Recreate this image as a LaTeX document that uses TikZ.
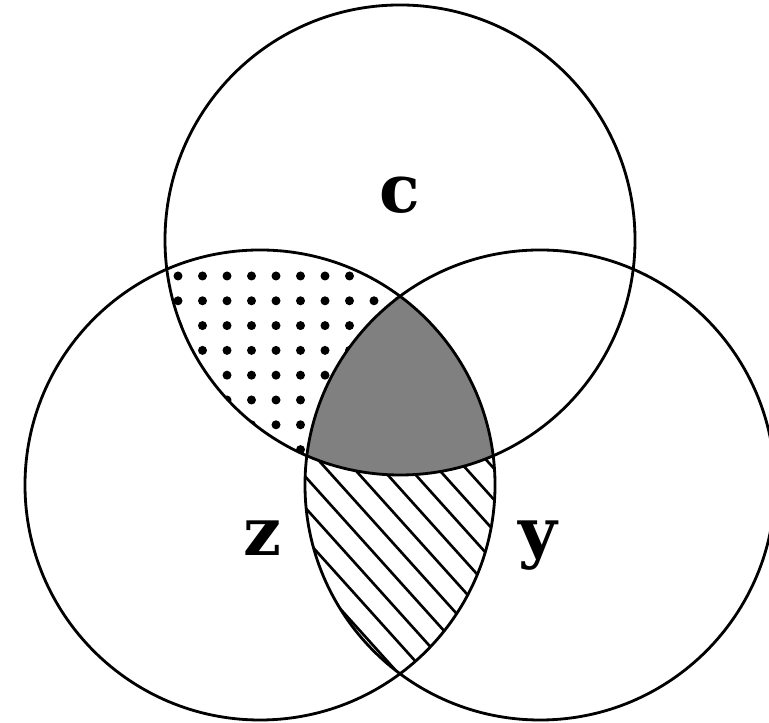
\documentclass[tikz,border=0pt]{standalone}
\usepackage{fontspec}
\setmainfont{DejaVu Serif}
\usetikzlibrary{calc}

\tikzset{
  lingkaran/.style={line width=0.8pt},
  arsir/.style={line width=0.75pt},
  label/.style={font=\bfseries\fontsize{19}{19}\selectfont, anchor=base}
}

\begin{document}
\begin{tikzpicture}

    \useasboundingbox (0,0) rectangle (7.69,7.23);

    % Pusat lingkaran
    \coordinate (C) at (4.00,4.83);
    \coordinate (Z) at (2.60,2.38);
    \coordinate (Y) at (5.40,2.38);
    \def\rad{2.35}

    % Arsiran titik (C dan Z)
    \begin{scope}
        \clip (C) circle (\rad);
        \clip (Z) circle (\rad);
        \foreach \i in {0,...,10}
            \foreach \j in {0,...,8}
                \fill ({1.78+0.245*\i},{4.47-0.248*\j}) circle (0.045);
    \end{scope}

    % Arsiran garis (Z dan Y)
    \begin{scope}
        \clip (Z) circle (\rad);
        \clip (Y) circle (\rad);
        \foreach \s in {3.03,3.31,...,8.0}
            \draw[arsir] (\s-2.7,3) -- (\s,0);
    \end{scope}

    % Irisan ketiganya
    \begin{scope}
        \clip (C) circle (\rad);
        \clip (Z) circle (\rad);
        \fill[gray] (Y) circle (\rad);
    \end{scope}

    % Lingkaran
    \draw[lingkaran] (C) circle (\rad);
    \draw[lingkaran] (Z) circle (\rad);
    \draw[lingkaran] (Y) circle (\rad);

    % Label himpunan
    \node[label] (labelc) at (4.00,5.10) {c};
    \node[label] (labelz) at (2.62,1.67) {z};
    \node[label] (labely) at (5.38,1.67) {y};

\end{tikzpicture}
\end{document}
